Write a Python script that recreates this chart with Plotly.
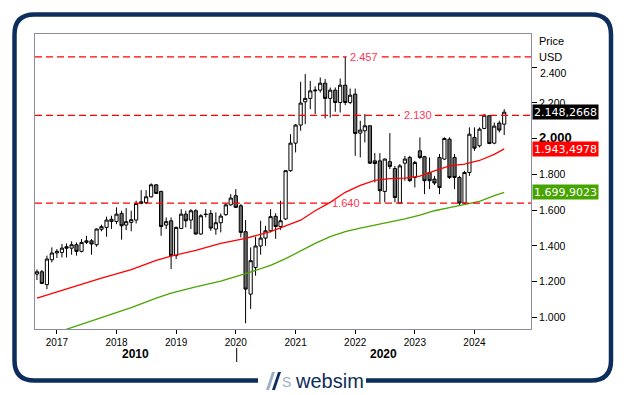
import plotly.graph_objects as go
import pandas as pd

# ---------------- data ----------------
start_month = "2016-09-01"
opens = [1.243,1.256,1.184,1.323,1.361,1.364,1.396,1.388,1.407,1.370,1.420,1.429,1.407,1.493,1.504,1.537,1.537,1.582,1.517,1.532,
         1.545,1.638,1.643,1.675,1.742,1.705,1.517,1.541,1.346,1.498,1.578,1.545,1.597,1.467,1.578,1.582,1.495,1.530,1.575,1.630,
         1.681,1.625,1.480,1.131,1.280,1.400,1.444,1.485,1.566,1.509,1.551,1.821,1.975,2.076,2.206,2.225,2.267,2.271,2.310,2.225,
         2.271,2.202,2.299,2.202,2.249,2.031,2.044,2.072,1.876,1.876,1.705,1.871,1.833,1.640,1.863,1.895,1.783,1.932,1.899,1.811,
         1.774,1.895,1.886,1.997,1.895,1.783,1.640,1.811,2.007,1.960,2.057,2.128,1.975,2.087,2.081]
highs = [1.269,1.266,1.346,1.392,1.383,1.411,1.414,1.426,1.420,1.439,1.457,1.439,1.498,1.519,1.564,1.569,1.616,1.597,1.612,1.597,
         1.653,1.712,1.712,1.750,1.746,1.709,1.560,1.560,1.508,1.606,1.597,1.606,1.606,1.578,1.606,1.601,1.588,1.582,1.638,1.690,
         1.718,1.634,1.545,1.392,1.452,1.541,1.513,1.606,1.583,1.653,1.823,2.025,2.081,2.318,2.361,2.323,2.292,2.342,2.333,2.286,
         2.286,2.336,2.457,2.280,2.280,2.100,2.137,2.075,1.919,1.919,1.889,2.031,1.848,1.858,1.904,1.904,1.876,2.007,1.904,1.895,
         1.792,1.914,2.007,2.007,1.914,1.792,1.820,2.063,2.063,2.063,2.137,2.131,2.090,2.100,2.165]
lows = [1.210,1.187,1.159,1.308,1.333,1.336,1.336,1.351,1.346,1.364,1.411,1.351,1.396,1.482,1.452,1.495,1.522,1.435,1.489,1.482,
        1.526,1.634,1.634,1.671,1.690,1.457,1.495,1.271,1.327,1.495,1.504,1.495,1.463,1.463,1.560,1.485,1.463,1.476,1.569,1.625,
        1.612,1.448,0.968,1.048,1.234,1.351,1.401,1.476,1.440,1.490,1.545,1.815,1.923,2.044,2.081,2.165,2.137,2.258,2.113,2.118,
        2.150,2.146,2.187,2.193,1.904,1.895,1.979,1.858,1.755,1.644,1.644,1.830,1.644,1.638,1.765,1.759,1.727,1.886,1.690,1.718,
        1.740,1.690,1.882,1.774,1.718,1.629,1.634,1.792,1.932,1.951,2.053,1.969,1.969,2.035,2.020]
closes = [1.256,1.191,1.327,1.361,1.370,1.388,1.388,1.407,1.370,1.420,1.429,1.411,1.495,1.508,1.545,1.549,1.578,1.513,1.536,1.547,
          1.638,1.647,1.675,1.742,1.694,1.509,1.536,1.346,1.504,1.578,1.541,1.597,1.467,1.569,1.576,1.500,1.530,1.567,1.630,1.668,
          1.616,1.476,1.159,1.318,1.400,1.444,1.485,1.564,1.509,1.541,1.821,1.975,2.076,2.199,2.225,2.267,2.271,2.310,2.225,2.271,
          2.202,2.299,2.202,2.243,2.029,2.048,2.072,1.863,1.861,1.709,1.886,1.845,1.671,1.848,1.886,1.765,1.867,1.895,1.765,1.765,
          1.752,1.727,2.001,1.783,1.783,1.640,1.811,2.025,1.947,2.053,2.131,1.973,2.070,2.048,2.148]

# moving averages read at selected months (month number, 1 = first candle)
red_idx = [1,7,14,20,25,28,33,38,43,48,51,54,57,60,63,66,69,72,75,78,81,84,87,90,93,95]
red_vals = [1.108,1.161,1.220,1.268,1.320,1.344,1.376,1.415,1.443,1.480,1.510,1.544,1.597,1.644,1.700,1.739,1.767,1.777,1.779,
            1.790,1.820,1.848,1.858,1.878,1.912,1.943]
green_idx = [6,12,20,25,28,33,38,43,48,51,54,57,60,63,66,69,72,75,78,81,84,87,90,93,95]
green_vals = [0.926,0.982,1.055,1.108,1.136,1.172,1.204,1.245,1.292,1.329,1.374,1.415,1.452,1.480,1.500,1.516,1.533,1.552,1.572,
              1.597,1.614,1.631,1.650,1.681,1.700]

levels = [2.457, 2.130, 1.640]
level_labels = ["2.457", "2.130", "1.640"]
last_labels = ["2.148,2668", "1.943,4978", "1.699,9023"]
last_values = [2.1483, 1.9435, 1.6999]

year_ticks = ["2017", "2018", "2019", "2020", "2021", "2022", "2023", "2024"]
price_ticks = [1.0, 1.2, 1.4, 1.6, 1.8, 2.0, 2.2, 2.4]
price_tick_text = ["1.000", "1.200", "1.400", "1.600", "1.800",
                   "<b><span style='font-size:13px'>2.000</span></b>", "2.200", ""]
top_tick_label = "2.400"   # drawn slightly lower (as in the original) to clear "USD"
decade_labels = ["2010", "2020"]

# ---------------- geometry helpers ----------------
W, H = 626, 395
L, T, R, B = 35, 34, 531, 329
def px(x):
    return (x - L) / (R - L)
def py(y):
    return (B - y) / (B - T)

dates = pd.date_range(start_month, periods=len(closes), freq="MS")
red_x = [dates[i - 1] for i in red_idx]
green_x = [dates[i - 1] for i in green_idx]

NAVY = "#0d2d5c"
FONT = "Arial, Liberation Sans, sans-serif"

fig = go.Figure()
fig.add_trace(go.Candlestick(
    x=dates, open=opens, high=highs, low=lows, close=closes,
    increasing=dict(line=dict(color="black", width=1), fillcolor="white"),
    decreasing=dict(line=dict(color="black", width=1), fillcolor="#6a6a6a"),
    whiskerwidth=0, hoverinfo="skip"))
fig.add_trace(go.Scatter(x=red_x, y=red_vals, mode="lines",
                         line=dict(color="#ff0000", width=1.3), hoverinfo="skip"))
fig.add_trace(go.Scatter(x=green_x, y=green_vals, mode="lines",
                         line=dict(color="#4aa500", width=1.3), hoverinfo="skip"))

shapes = []
annotations = []

# dashed horizontal levels with a gap for their labels
gaps = [(346.7, 381.7), (400, 435), (328, 363)]
for lv, lab, (g0, g1) in zip(levels, level_labels, gaps):
    for a, b in ((0, px(g0)), (px(g1), 1)):
        shapes.append(dict(type="line", xref="paper", yref="y", x0=a, x1=b, y0=lv, y1=lv,
                           line=dict(color="#ff0000", width=1.2, dash="7px,4px"), layer="above"))
    annotations.append(dict(xref="paper", yref="y", x=px((g0 + g1) / 2), y=lv, text=lab,
                            showarrow=False, xanchor="center", yanchor="middle",
                            font=dict(family=FONT, size=11, color="#ff3355")))

# top price label, nudged down
annotations.append(dict(xref="paper", yref="y", x=1, y=price_ticks[-1], xshift=7, yshift=-6,
                        text=top_tick_label, showarrow=False, xanchor="left", yanchor="middle",
                        font=dict(family=FONT, size=10.5, color="black")))

# last value boxes on the right
box_colors = ["#000000", "#ff0000", "#46a400"]
for val, lab, col in zip(last_values, last_labels, box_colors):
    annotations.append(dict(xref="paper", yref="y", x=1, y=val, xshift=1, text=lab,
                            showarrow=False, xanchor="left", yanchor="middle",
                            bgcolor=col, width=63, height=12, align="left", borderpad=1,
                            font=dict(family="DejaVu Sans, Verdana, sans-serif", size=11, color="white")))

# axis titles
annotations.append(dict(xref="paper", yref="paper", x=px(537), y=py(41), text="Price", showarrow=False,
                        xanchor="left", yanchor="middle", font=dict(family=FONT, size=11, color="black")))
annotations.append(dict(xref="paper", yref="paper", x=px(537), y=py(57), text="USD", showarrow=False,
                        xanchor="left", yanchor="middle", font=dict(family=FONT, size=11, color="black")))

# decade labels under the axis
for cx, lab in zip((135, 383), decade_labels):
    annotations.append(dict(xref="paper", yref="paper", x=px(cx), y=py(354), text="<b>" + lab + "</b>",
                            showarrow=False, xanchor="center", yanchor="middle",
                            font=dict(family=FONT, size=12, color="black")))
shapes.append(dict(type="line", xref="paper", yref="paper", x0=px(236.7), x1=px(236.7), y0=py(348), y1=py(362),
                   line=dict(color="black", width=1)))

# outer rounded frame with a gap for the logo
fx0, fy0, fx1, fy1, rr = 14.5, 14.5, 611, 380.5, 20
def P(x, y):
    return f"{px(x):.5f},{py(y):.5f}"
path = (f"M {P(258, fy1)} L {P(fx0 + rr, fy1)} Q {P(fx0, fy1)} {P(fx0, fy1 - rr)} "
        f"L {P(fx0, fy0 + rr)} Q {P(fx0, fy0)} {P(fx0 + rr, fy0)} "
        f"L {P(fx1 - rr, fy0)} Q {P(fx1, fy0)} {P(fx1, fy0 + rr)} "
        f"L {P(fx1, fy1 - rr)} Q {P(fx1, fy1)} {P(fx1 - rr, fy1)} L {P(366, fy1)}")
shapes.append(dict(type="path", xref="paper", yref="paper", path=path,
                   line=dict(color=NAVY, width=4.5)))

# logo icon (two slashes and an S) and wordmark
shapes.append(dict(type="path", xref="paper", yref="paper",
                   path=f"M {P(266, 390)} L {P(272, 372)} L {P(275, 372)} L {P(269, 390)} Z",
                   fillcolor="#9aaec6", line=dict(width=0)))
shapes.append(dict(type="path", xref="paper", yref="paper",
                   path=f"M {P(272, 390)} L {P(278, 372)} L {P(281, 372)} L {P(275, 390)} Z",
                   fillcolor=NAVY, line=dict(width=0)))
annotations.append(dict(xref="paper", yref="paper", x=px(280), y=py(382), text="S", showarrow=False,
                        xanchor="left", yanchor="middle", font=dict(family=FONT, size=14, color="#9aaec6")))
annotations.append(dict(xref="paper", yref="paper", x=px(293), y=py(381), text="websim", showarrow=False,
                        xanchor="left", yanchor="middle", font=dict(family=FONT, size=20, color=NAVY)))

fig.update_layout(
    width=W, height=H,
    margin=dict(l=L, r=W - R, t=T, b=H - B, pad=0),
    paper_bgcolor="white", plot_bgcolor="white",
    showlegend=False, boxgap=0.3, boxgroupgap=0,
    shapes=shapes, annotations=annotations,
    xaxis=dict(type="date", range=["2016-08-20", "2024-12-12"],
               tickvals=[f"{y}-01-01" for y in year_ticks], ticktext=year_ticks,
               ticks="outside", ticklen=4, tickcolor="black", showgrid=False, zeroline=False,
               showline=True, linecolor="#8c8c9c", linewidth=1, mirror=True,
               tickfont=dict(family=FONT, size=10, color="black"),
               rangeslider=dict(visible=False), fixedrange=True),
    yaxis=dict(side="right", range=[0.936, 2.585], tickvals=price_ticks, ticktext=price_tick_text,
               ticks="outside", ticklen=5, tickcolor="black", showgrid=False, zeroline=False,
               showline=True, linecolor="#8c8c9c", linewidth=1, mirror=True,
               tickfont=dict(family=FONT, size=10.5, color="black"), fixedrange=True),
)

fig.write_html("out.html", config={"displayModeBar": False},
               post_script="document.body.style.margin='0px';document.body.style.overflow='hidden';")
